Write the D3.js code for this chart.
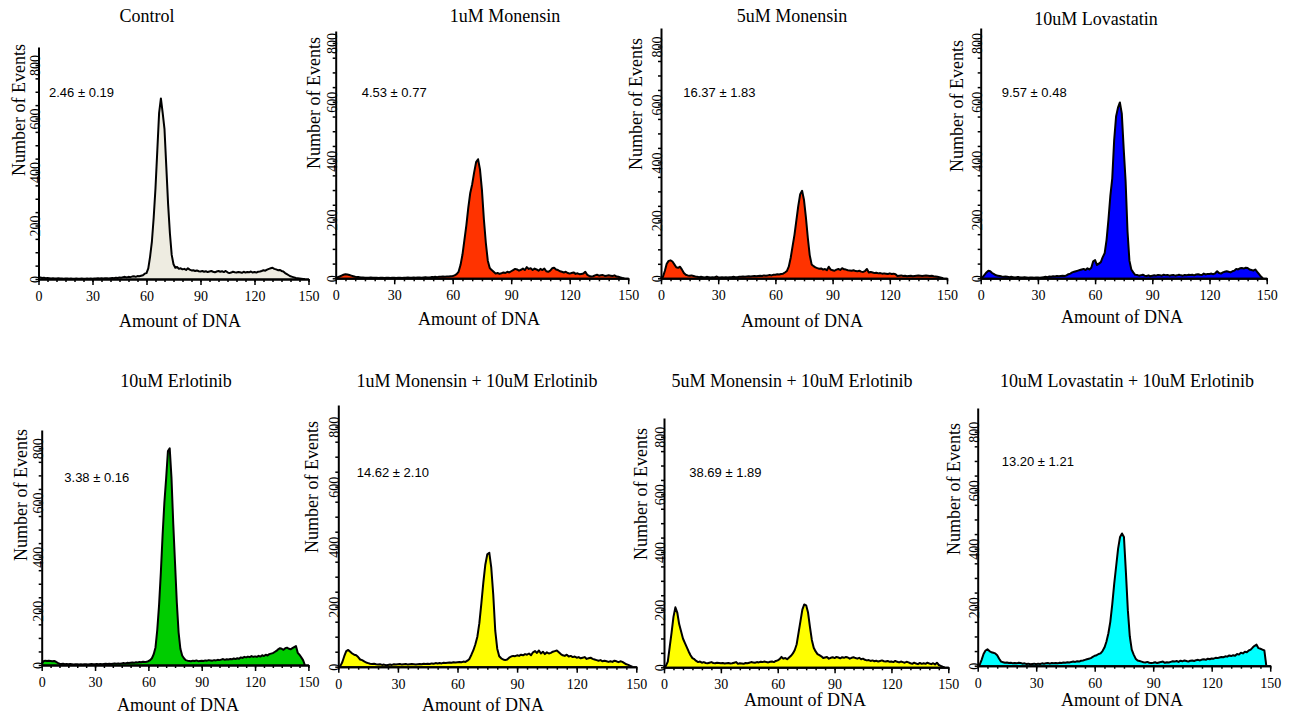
<!DOCTYPE html>
<html>
<head>
<meta charset="utf-8">
<script src="https://cdn.jsdelivr.net/npm/d3@7"></script>
<style>
  body { margin: 0; background: #fff; }
  .serif { font-family: "Liberation Serif", "Times New Roman", serif; fill: #000; }
  .note { font-family: "Liberation Sans", Arial, sans-serif; font-size: 13px; fill: #000; }
  .domain { stroke: #000; stroke-width: 2; }
  .tick line { stroke: #000; stroke-width: 1.5; }
</style>
</head>
<body>
<div id="container"></div>
<script>
/* DATA */
// channels of the DNA histogram, 0..148
const dnaBins = d3.range(0, 149);

const titles = [
  "Control", "1uM Monensin", "5uM Monensin", "10uM Lovastatin",
  "10uM Erlotinib", "1uM Monensin + 10uM Erlotinib",
  "5uM Monensin + 10uM Erlotinib", "10uM Lovastatin + 10uM Erlotinib"
];

const notes = [
  "2.46 ± 0.19", "4.53 ± 0.77", "16.37 ± 1.83", "9.57 ± 0.48",
  "3.38 ± 0.16", "14.62 ± 2.10", "38.69 ± 1.89", "13.20 ± 1.21"
];

const xTicks = [0, 30, 60, 90, 120, 150];
const yTicks = [0, 200, 400, 600, 800];

// number of events per channel
const control = [
  5,6,4,5,3,4,3,2,3,2,
  2,3,2,2,1,2,2,1,2,1,
  1,2,1,1,2,1,1,2,1,2,
  1,2,2,3,2,3,2,3,3,2,
  3,4,3,5,4,6,5,7,8,6,
  8,7,9,10,8,11,10,12,14,20,
  22,40,84,140,230,340,480,620,675,620,
  560,420,280,171,90,55,42,45,38,40,
  36,38,34,40,35,32,33,30,32,29,
  28,30,27,29,26,28,30,27,25,28,
  30,27,29,26,30,25,22,24,27,25,
  24,26,25,23,27,24,26,25,28,24,
  26,24,27,28,30,33,31,35,38,40,
  42,38,36,33,34,30,28,22,18,14,
  10,8,6,4,3,2,1,0,0
];

const mon1 = [
  2,4,6,9,12,14,13,11,9,7,
  5,4,4,3,3,2,2,2,3,2,
  2,2,1,2,2,1,2,2,1,2,
  2,1,2,2,1,2,2,3,2,2,
  3,2,3,3,2,3,4,3,3,4,
  4,5,4,5,5,6,5,6,6,7,
  8,10,14,22,45,80,130,180,240,290,
  320,360,395,405,370,300,200,120,60,35,
  28,22,16,18,15,17,20,18,22,20,
  24,28,32,30,26,29,33,28,38,32,
  34,28,33,30,26,32,28,33,24,22,
  26,34,36,30,28,24,22,20,22,18,
  16,18,20,15,17,14,15,16,22,12,
  8,6,7,10,12,9,10,11,8,9,
  10,9,8,10,6,5,3,1,0
];

const mon5 = [
  0,5,25,50,60,62,58,48,38,36,
  40,30,18,12,10,9,10,8,6,5,
  4,5,4,3,5,4,3,4,3,6,
  4,3,4,3,4,3,4,4,5,4,
  4,5,5,6,5,6,7,6,7,8,
  7,8,9,8,10,9,10,11,10,12,
  12,14,13,15,16,20,25,40,70,110,
  150,200,250,290,302,270,210,140,80,48,
  42,38,35,33,34,30,32,28,40,30,
  28,26,30,32,29,35,31,30,28,27,
  26,28,25,24,26,23,22,25,32,20,
  22,20,18,19,17,18,16,17,16,15,
  17,15,16,14,8,9,10,8,9,7,
  8,9,7,8,9,10,9,8,9,10,
  9,8,9,7,6,5,4,2,0
];

const lova10 = [
  0,4,12,20,26,24,18,14,10,9,
  8,6,5,6,5,4,5,4,3,4,
  4,3,3,4,3,2,3,3,2,3,
  3,2,3,4,5,4,6,5,7,6,
  8,7,8,9,8,10,14,16,20,22,
  24,26,28,30,32,28,34,30,36,58,
  62,45,50,55,72,85,130,200,280,340,
  470,550,580,598,560,440,330,160,60,30,
  20,12,11,9,10,12,9,8,10,7,
  9,10,9,11,10,9,12,10,11,9,
  10,11,9,10,12,10,9,11,10,12,
  11,12,10,13,14,12,11,16,13,15,
  15,16,14,17,24,18,16,20,22,24,
  22,20,24,26,32,30,34,35,33,36,
  35,30,28,26,30,22,14,6,0
];

const erlo10 = [
  5,14,16,15,16,15,14,15,12,8,
  5,4,5,3,4,3,4,3,2,3,
  3,2,3,2,3,3,2,3,4,3,
  3,4,3,4,3,4,5,4,5,4,
  5,6,5,6,5,6,7,6,8,7,
  8,9,8,10,9,11,10,12,11,12,
  14,18,25,40,65,130,220,340,480,600,
  690,790,800,690,520,375,230,120,60,35,
  25,18,16,15,14,16,15,17,14,15,
  16,15,17,16,18,17,16,18,17,19,
  18,20,22,19,21,20,22,21,24,22,
  25,23,28,26,30,28,31,29,33,30,
  32,30,34,31,36,33,38,35,40,42,
  44,48,52,58,62,60,56,62,64,60,
  58,62,66,70,45,38,28,18,0
];

const mon1Erlo = [
  0,2,15,35,52,56,50,44,40,38,
  32,24,22,18,14,12,10,9,10,8,
  7,8,6,7,5,6,7,6,8,7,
  8,9,7,8,9,7,8,9,8,7,
  8,9,8,10,9,10,9,11,10,12,
  11,12,11,13,12,13,14,13,15,14,
  15,16,15,17,16,20,26,40,55,75,
  100,145,210,280,340,375,380,330,240,120,
  60,35,28,24,22,24,30,34,36,35,
  38,36,40,38,42,40,44,38,48,52,
  46,54,44,50,42,48,44,46,50,52,
  54,48,42,38,36,40,34,36,32,34,
  30,32,28,30,32,26,28,30,26,24,
  22,20,22,18,20,18,16,18,16,20,
  18,15,18,16,12,8,6,3,0
];

const mon5Erlo = [
  0,5,20,70,120,175,208,190,150,125,
  100,85,70,55,42,32,28,22,18,20,
  16,18,15,14,16,18,15,14,16,15,
  14,15,13,14,15,13,14,16,18,12,
  14,13,12,15,14,16,18,17,16,18,
  17,19,18,20,18,17,19,20,18,22,
  24,28,36,30,32,28,34,40,48,60,
  80,120,160,200,218,215,190,140,95,68,
  55,46,42,38,32,34,36,30,33,35,
  32,36,34,31,35,33,36,34,30,33,
  35,32,30,33,28,30,26,24,25,22,
  24,21,23,20,22,24,21,20,22,19,
  20,18,22,19,17,20,18,16,19,17,
  14,12,16,13,11,15,12,14,12,16,
  13,11,14,10,16,8,5,2,0
];

const lovaErlo = [
  0,3,20,40,52,56,50,46,44,42,
  36,24,14,12,10,11,9,10,8,9,
  8,10,9,7,8,6,7,5,6,7,
  5,7,6,8,7,8,9,7,9,8,
  9,8,10,9,11,10,12,11,13,14,
  13,15,14,17,18,20,22,24,26,30,
  34,36,40,42,50,62,82,110,150,210,
  280,340,400,440,452,440,320,190,100,55,
  38,24,18,16,14,12,11,13,10,9,
  10,12,9,11,13,14,10,12,11,13,
  15,14,16,13,17,15,18,16,14,17,
  18,16,19,20,18,21,22,20,24,22,
  25,24,27,26,28,30,29,32,31,35,
  33,36,34,40,38,44,42,48,46,52,
  55,62,68,72,60,58,55,52,0
];

const series = [control, mon1, mon5, lova10, erlo10, mon1Erlo, mon5Erlo, lovaErlo];
const fills = ["#eeece1", "#ff3300", "#ff3300", "#0000ff", "#00cc00", "#ffff00", "#ffff00", "#00ffff"];

/* LAYOUT (pixel positions of each small panel) */
const layout = [
  { x0: 38.5,  w: 270,   y0: 279,   y800: 65,    ytop: 47,  tx: 147,  ty: 22,  lx: 25,  ly: 110, ax: 180,  ay: 327, nx: 49,   ny: 96.5 },
  { x0: 335.7, w: 292.5, y0: 278.3, y800: 43,    ytop: 31,  tx: 505,  ty: 22,  lx: 320, ly: 103, ax: 479,  ay: 325, nx: 361.7, ny: 96.8 },
  { x0: 661,   w: 286,   y0: 278.3, y800: 46.5,  ytop: 28,  tx: 792,  ty: 22,  lx: 642, ly: 104, ax: 802,  ay: 327, nx: 683.3, ny: 96.5 },
  { x0: 980.7, w: 286,   y0: 278.3, y800: 43,    ytop: 28,  tx: 1096, ty: 25,  lx: 963, ly: 106, ax: 1122, ay: 323, nx: 1001.7, ny: 96.5 },
  { x0: 41.7,  w: 266.7, y0: 665,   y800: 448.3, ytop: 430, tx: 176,  ty: 387, lx: 27,  ly: 495, ax: 178,  ay: 711, nx: 64.3, ny: 482 },
  { x0: 338.3, w: 298,   y0: 666.7, y800: 426.7, ytop: 405, tx: 477,  ty: 387, lx: 318, ly: 487, ax: 483,  ay: 711, nx: 356.7, ny: 477 },
  { x0: 664,   w: 284.3, y0: 667.3, y800: 436.7, ytop: 418, tx: 792,  ty: 387, lx: 647, ly: 494, ax: 805,  ay: 706, nx: 689.3, ny: 477 },
  { x0: 977.7, w: 292.5, y0: 665.7, y800: 431.7, ytop: 408, tx: 1127, ty: 387, lx: 960, ly: 489, ax: 1122, ay: 706, nx: 1001.7, ny: 466 }
];

const serifFont = '"Liberation Serif", "Times New Roman", serif';

const svg = d3.select("#container")
  .append("svg")
  .attr("width", 1303)
  .attr("height", 717);

layout.forEach((p, k) => {
  const values = series[k];

  const xScale = d3.scaleLinear()
    .domain([0, 150])
    .range([p.x0, p.x0 + p.w]);

  // axis line runs a bit above 800, so extend the domain to the top pixel
  const yMax = 800 * (p.y0 - p.ytop) / (p.y0 - p.y800);
  const yScale = d3.scaleLinear()
    .domain([0, yMax])
    .range([p.y0, p.ytop]);

  const g = svg.append("g");

  // filled histogram
  const area = d3.area()
    .x((d, i) => xScale(dnaBins[i]))
    .y0(p.y0)
    .y1(d => yScale(d));
  const line = d3.line()
    .x((d, i) => xScale(dnaBins[i]))
    .y(d => yScale(d));

  g.append("path")
    .datum(values)
    .attr("d", area)
    .attr("fill", fills[k]);
  g.append("path")
    .datum(values)
    .attr("d", line)
    .attr("fill", "none")
    .attr("stroke", "#000")
    .attr("stroke-width", 2)
    .attr("stroke-linejoin", "round");

  // x axis: minor ticks every 5, major every 30
  g.append("g")
    .attr("transform", `translate(0, ${p.y0})`)
    .call(d3.axisBottom(xScale).tickValues(d3.range(0, 151, 5)).tickSize(3).tickSizeOuter(0).tickFormat(""));
  const xAx = g.append("g")
    .attr("transform", `translate(0, ${p.y0})`)
    .call(d3.axisBottom(xScale).tickValues(xTicks).tickSize(6).tickSizeOuter(0).tickPadding(6));
  xAx.attr("font-family", serifFont).attr("font-size", 14);
  xAx.selectAll("text")
    .style("font-family", serifFont)
    .style("font-size", "14px")
    .attr("fill", "#000");

  // y axis: small ticks every 50, rotated labels every 200
  g.append("g")
    .attr("transform", `translate(${p.x0}, 0)`)
    .call(d3.axisLeft(yScale).tickValues(d3.range(0, 801, 50)).tickSize(3).tickSizeOuter(0).tickFormat(""));
  const yAx = g.append("g")
    .attr("transform", `translate(${p.x0}, 0)`)
    .call(d3.axisLeft(yScale).tickValues(yTicks).tickSize(0).tickSizeOuter(0));
  yAx.attr("font-family", serifFont).attr("font-size", 14);
  yAx.select(".domain").remove();
  yAx.selectAll("text")
    .style("font-family", serifFont)
    .style("font-size", "14px")
    .attr("fill", "#000")
    .attr("text-anchor", "middle")
    .attr("x", 0)
    .attr("y", 1)
    .attr("dy", 0)
    .attr("transform", "rotate(-90)");

  // texts
  g.append("text")
    .attr("class", "serif")
    .attr("x", p.tx)
    .attr("y", p.ty)
    .attr("text-anchor", "middle")
    .style("font-size", "18px")
    .text(titles[k]);

  g.append("text")
    .attr("class", "serif")
    .attr("transform", `translate(${p.lx}, ${p.ly}) rotate(-90)`)
    .attr("text-anchor", "middle")
    .style("font-size", "18px")
    .text("Number of Events");

  g.append("text")
    .attr("class", "serif")
    .attr("x", p.ax)
    .attr("y", p.ay)
    .attr("text-anchor", "middle")
    .style("font-size", "18px")
    .text("Amount of DNA");

  g.append("text")
    .attr("class", "note")
    .attr("x", p.nx)
    .attr("y", p.ny)
    .text(notes[k]);
});
</script>
</body>
</html>
